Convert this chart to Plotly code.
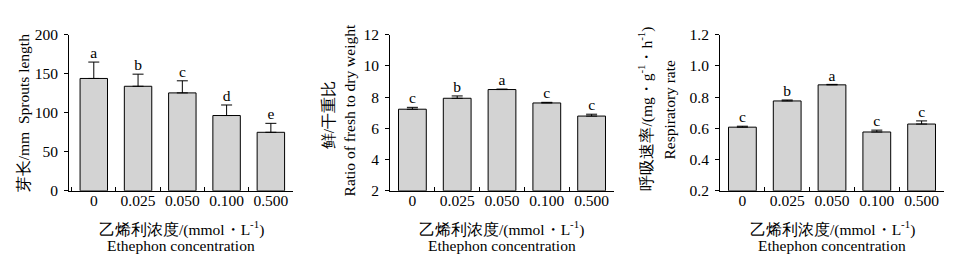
import plotly.graph_objects as go

categories = ["0", "0.025", "0.050", "0.100", "0.500"]

sprout_len = [144, 134, 125.5, 96.5, 75]
sprout_err = [21, 15.5, 15.5, 13.5, 11.5]
sprout_sig = ["a", "b", "c", "d", "e"]

ratio_fd = [7.23, 7.93, 8.49, 7.63, 6.79]
ratio_err = [0.12, 0.15, 0.03, 0.04, 0.12]
ratio_sig = ["c", "b", "a", "c", "c"]

resp_rate = [0.608, 0.776, 0.879, 0.577, 0.628]
resp_err = [0.006, 0.006, 0.003, 0.012, 0.02]
resp_sig = ["c", "b", "a", "c", "c"]

W, H = 955, 260
FONT = "Liberation Serif"
FS = 15.5

panels = [
    dict(vals=sprout_len, err=sprout_err, sig=sprout_sig, x0=61, x1=285,
         xr=[-0.56, 4.5], yr=[0, 200], dtick=50, fmt=""),
    dict(vals=ratio_fd, err=ratio_err, sig=ratio_sig, x0=382, x1=606,
         xr=[-0.5, 4.5], yr=[2, 12], dtick=2, fmt=""),
    dict(vals=resp_rate, err=resp_err, sig=resp_sig, x0=712, x1=936,
         xr=[-0.5, 4.5], yr=[0.2, 1.2], dtick=0.2, fmt=".1f"),
]

fig = go.Figure()
ytop, ybot = 19, 186

for i, p in enumerate(panels, start=1):
    xa = "x" if i == 1 else f"x{i}"
    ya = "y" if i == 1 else f"y{i}"
    fig.add_trace(go.Bar(
        x=categories, y=[v - p["yr"][0] for v in p["vals"]], base=p["yr"][0],
        xaxis=xa, yaxis=ya, width=0.62,
        marker=dict(color="#d3d3d3", line=dict(color="black", width=1)),
        error_y=dict(type="data", symmetric=False, array=p["err"],
                     arrayminus=[0] * 5, color="black", thickness=1, width=5.5),
        showlegend=False, hoverinfo="skip",
    ))
    fig.add_trace(go.Scatter(
        x=categories, y=[v + e for v, e in zip(p["vals"], p["err"])],
        text=p["sig"], mode="text", textposition="top center",
        textfont=dict(family=FONT, size=FS, color="black"),
        xaxis=xa, yaxis=ya, showlegend=False, hoverinfo="skip", cliponaxis=False,
    ))
    axis_x = dict(
        domain=[p["x0"] / W, p["x1"] / W], type="category", range=p["xr"],
        showline=True, linecolor="black", linewidth=1, showgrid=False,
        ticks="inside", tickson="boundaries", ticklen=4, tickcolor="black",
        tickwidth=1, tickfont=dict(family=FONT, size=FS, color="black"),
        ticklabelstandoff=-4,
        anchor=ya, fixedrange=True,
    )
    axis_y = dict(
        domain=[(H - ybot) / H, (H - ytop) / H], range=p["yr"], dtick=p["dtick"],
        tick0=p["yr"][0], tickformat=p["fmt"],
        showline=True, linecolor="black", linewidth=1, showgrid=False,
        zeroline=False, ticks="outside", ticklen=4, tickcolor="black", tickwidth=1,
        tickfont=dict(family=FONT, size=FS, color="black"), anchor=xa,
        ticklabelstandoff=3,
        fixedrange=True,
    )
    fig.update_layout(**{("xaxis" if i == 1 else f"xaxis{i}"): axis_x,
                         ("yaxis" if i == 1 else f"yaxis{i}"): axis_y})
    cx = (p["x0"] + p["x1"]) / 2 / W
    fig.add_annotation(text="乙烯利浓度/(mmol・L<sup>-1</sup>)", x=cx, y=(H - 226) / H,
                       xref="paper", yref="paper", showarrow=False,
                       xanchor="center", yanchor="middle",
                       font=dict(family=FONT, size=FS, color="black"))
    fig.add_annotation(text="Ethephon concentration", x=cx, y=(H - 245) / H,
                       xref="paper", yref="paper", showarrow=False,
                       xanchor="center", yanchor="middle",
                       font=dict(family=FONT, size=FS, color="black"))

ytitles = [
    ("芽长/mm  Sprouts length", 15, 103),
    ("鲜/干重比", 320, 105),
    ("Ratio of fresh to dry weight", 341, 100),
    ("呼吸速率/(mg・g<sup>-1</sup>・h<sup>-1</sup>)", 638, 98),
    ("Respiratory rate", 662, 99),
]
for t, x, y in ytitles:
    fig.add_annotation(text=t, x=x / W, y=(H - y) / H, xref="paper", yref="paper",
                       showarrow=False, textangle=-90,
                       xanchor="center", yanchor="middle",
                       font=dict(family=FONT, size=FS, color="black"))

fig.update_layout(width=W, height=H, margin=dict(l=0, r=0, t=0, b=0),
                  plot_bgcolor="white", paper_bgcolor="white", barmode="overlay")

fig.write_html("out.html")
